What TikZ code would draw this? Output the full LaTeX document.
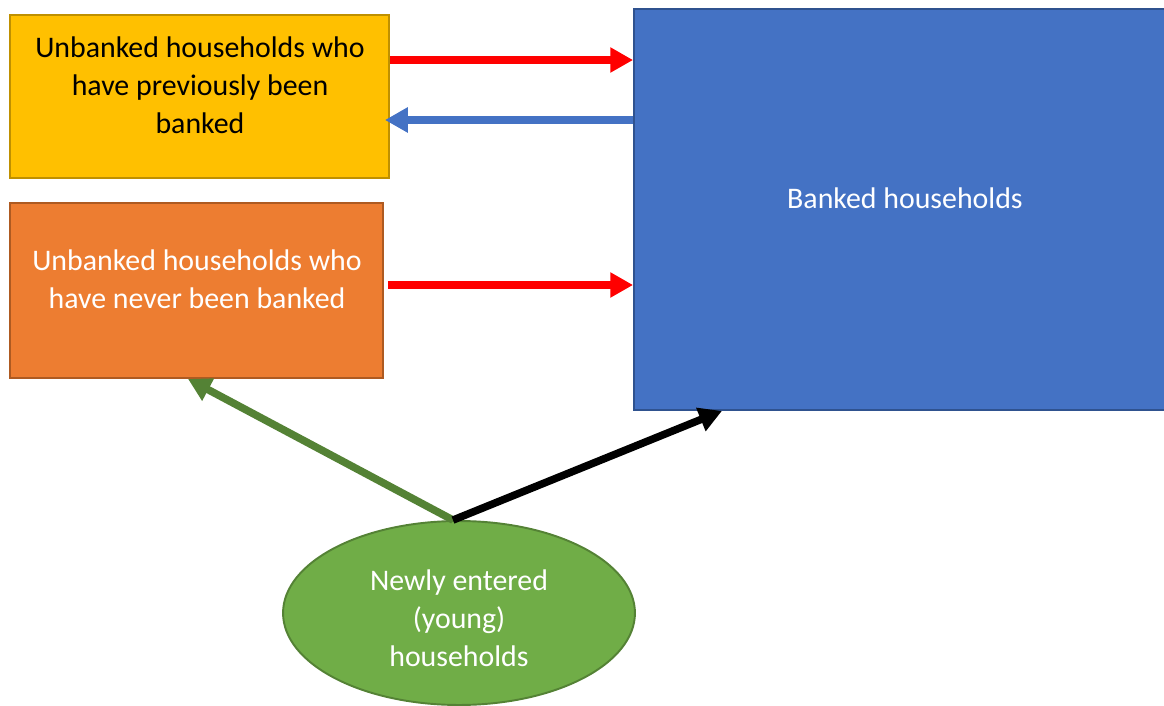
\documentclass[tikz,border=0pt]{standalone}
\usepackage{fontspec}
\setmainfont{Carlito}
\usepackage{tikz}
\usetikzlibrary{arrows.meta,positioning,calc,shapes.geometric}
\usepackage{xcolor}
\definecolor{goldF}{RGB}{255,192,0}
\definecolor{goldD}{RGB}{191,144,0}
\definecolor{orngF}{RGB}{237,125,49}
\definecolor{orngD}{RGB}{174,90,33}
\definecolor{blueF}{RGB}{68,114,196}
\definecolor{blueD}{RGB}{47,82,143}
\definecolor{grnF}{RGB}{112,173,71}
\definecolor{grnD}{RGB}{84,130,53}
\tikzset{
  panel/.style={rectangle,line width=1.1pt,inner sep=0pt},
  txt/.style={font=\fontsize{17}{21.5}\selectfont,align=center,inner sep=0pt},
  flow/.style={-{Triangle[length=13pt,width=13.6pt]},line width=4.3pt},
}
\begin{document}
\begin{tikzpicture}[x=0.02cm,y=-0.02cm]
  \useasboundingbox (0,0) rectangle (1164,706);
  % the three groups of households
  \node[panel,draw=goldD,fill=goldF,minimum width=7.58cm,minimum height=3.26cm] (prev) at (199.5,96.5) {};
  \node[panel,draw=orngD,fill=orngF,minimum width=7.46cm,minimum height=3.5cm] (never) at (196.5,290.5) {};
  \node[panel,draw=blueD,fill=blueF,minimum width=10.84cm,minimum height=8.02cm] (bank) at (905,209.5) {};
  \node[ellipse,line width=1.1pt,draw=grnD,fill=grnF,inner sep=0pt,minimum width=7.04cm,minimum height=3.68cm] (young) at (459,613) {};
  \node[txt] (prevT) at (200,85) {Unbanked households who\\have previously been\\banked};
  \node[txt,text=white] (neverT) at (197,279.5) {Unbanked households who\\have never been banked};
  \node[txt,text=white] (bankT) at (905,198) {Banked households};
  \node[txt,text=white] (youngT) at (459,618) {Newly entered\\(young)\\households};
  % flows
  \draw[flow,red] ([yshift=0.73cm]prev.east) -- ([yshift=0.73cm]prev.east -| bank.west);
  \draw[flow,blueF] ([yshift=-0.47cm]prev.east -| bank.west) -- ([yshift=-0.47cm,xshift=-0.1cm]prev.east);
  \draw[flow,red] ([yshift=0.11cm,xshift=0.08cm]never.east) -- ([yshift=0.11cm]never.east -| bank.west);
  \coordinate (split) at ([xshift=-0.12cm]young.north);
  \draw[flow,grnD] (split) -- ([xshift=-0.17cm]never.south);
  \draw[flow,black] (split) -- (bank.south west -| 722,0);
\end{tikzpicture}
\end{document}
